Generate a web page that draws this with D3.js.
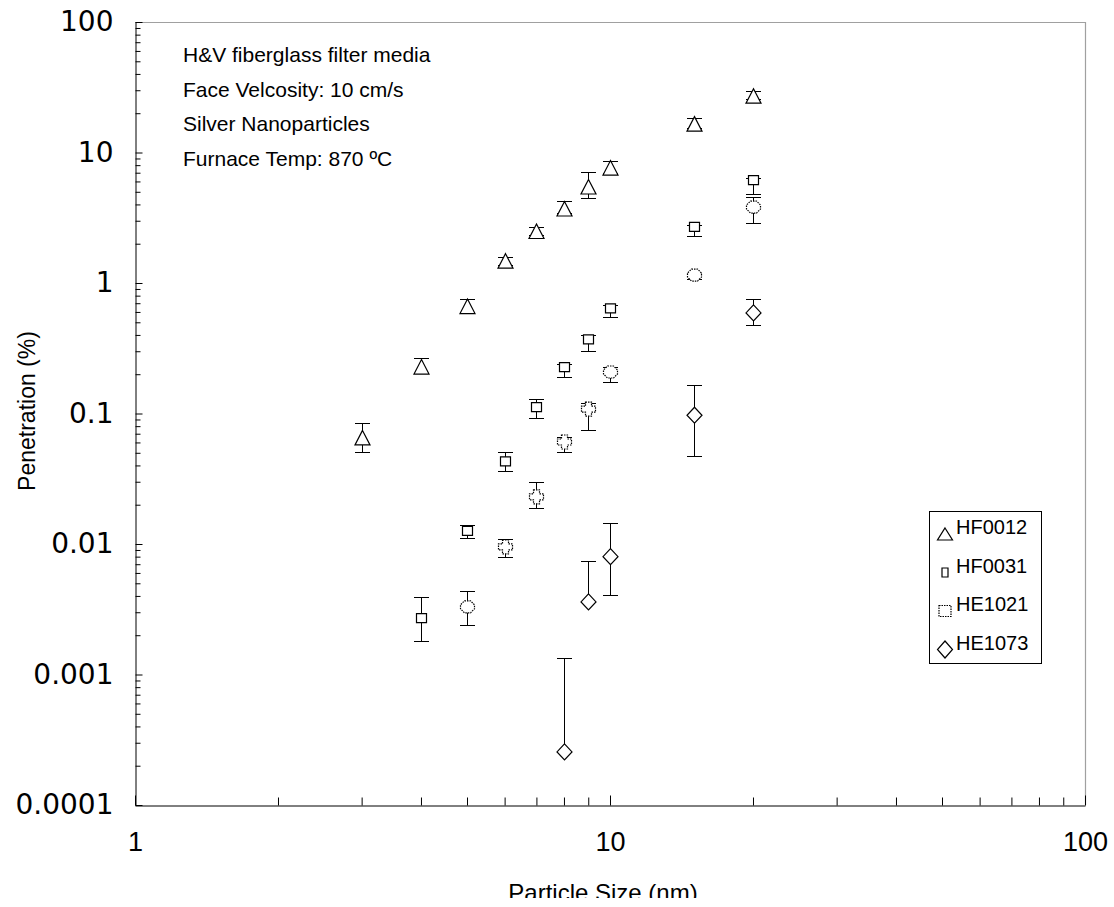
<!DOCTYPE html>
<html>
<head>
<meta charset="utf-8">
<script src="https://cdn.jsdelivr.net/npm/d3@7"></script>
<style>
  body { margin: 0; background: #fff; }
  svg { display: block; font-family: "Liberation Sans", Arial, sans-serif; }
</style>
</head>
<body>
<div id="chart"></div>
<script>
// Particle sizes (nm) for each filter
var sizesHF0012 = [3, 4, 5, 6, 7, 8, 9, 10, 15, 20]
var sizesHF0031 = [4, 5, 6, 7, 8, 9, 10, 15, 20]
var sizesHE1021 = [5, 6, 7, 8, 9, 10, 15, 20]
var sizesHE1073 = [8, 9, 10, 15, 20]

// Penetration (%) and the ends of the error bars
var penHF0012 = [0.065, 0.227, 0.66, 1.47, 2.48, 3.69, 5.44, 7.6, 16.5, 27.0]
var lowHF0012 = [0.0506, 0.205, 0.60, 1.38, 2.35, 3.45, 4.5, 7.0, 15.5, 25.5]
var highHF0012 = [0.085, 0.265, 0.75, 1.58, 2.7, 4.25, 7.1, 8.6, 18.5, 29.5]

var penHF0031 = [0.0027, 0.0126, 0.043, 0.112, 0.227, 0.37, 0.64, 2.69, 6.15]
var lowHF0031 = [0.0018, 0.0111, 0.0363, 0.092, 0.19, 0.30, 0.55, 2.29, 4.8]
var highHF0031 = [0.0039, 0.0141, 0.0508, 0.13, 0.24, 0.40, 0.68, 2.8, 6.4]

var penHE1021 = [0.0033, 0.0095, 0.023, 0.0605, 0.108, 0.208, 1.15, 3.82]
var lowHE1021 = [0.0024, 0.0079, 0.019, 0.0507, 0.075, 0.174, 1.08, 2.88]
var highHE1021 = [0.0044, 0.011, 0.030, 0.066, 0.12, 0.227, 1.2, 4.56]

var penHE1073 = [0.000255, 0.0036, 0.0080, 0.097, 0.59]
var lowHE1073 = [0.000255, 0.0036, 0.0041, 0.047, 0.477]
var highHE1073 = [0.00134, 0.0074, 0.0145, 0.166, 0.75]

var seriesNames = ["HF0012", "HF0031", "HE1021", "HE1073"]
var xTickLabels = ["1", "10", "100"]
var yTickLabels = ["0.0001", "0.001", "0.01", "0.1", "1", "10", "100"]
var notes = ["H&V fiberglass filter media", "Face Velcosity: 10 cm/s",
  "Silver Nanoparticles", "Furnace Temp: 870 \u00baC"]

// Build series rows from the arrays
function rows(sizes, pen, low, high) {
  return sizes.map(function(s, i) {
    return { x: s, y: pen[i], lo: low[i], hi: high[i] }
  })
}
var series = [
  { name: seriesNames[0], marker: "triangle", points: rows(sizesHF0012, penHF0012, lowHF0012, highHF0012) },
  { name: seriesNames[1], marker: "rect", points: rows(sizesHF0031, penHF0031, lowHF0031, highHF0031) },
  { name: seriesNames[2], marker: "dotted", points: rows(sizesHE1021, penHE1021, lowHE1021, highHE1021) },
  { name: seriesNames[3], marker: "diamond", points: rows(sizesHE1073, penHE1073, lowHE1073, highHE1073) }
]

var width = 1114, height = 898
var plotLeft = 135, plotRight = 1085, plotTop = 22, plotBottom = 805

var svg = d3.select("#chart").append("svg")
  .attr("width", width)
  .attr("height", height)

var x = d3.scaleLog().domain([1, 100]).range([plotLeft, plotRight])
var y = d3.scaleLog().domain([0.0001, 100]).range([plotBottom, plotTop])

// Minor tick positions: 2..9 inside each decade
function minors(lo, hi) {
  var out = []
  for (var d = lo; d < hi * 0.999; d *= 10)
    for (var k = 2; k <= 9; k++) out.push(d * k)
  return out
}

// Light frame on top and right
svg.append("path")
  .attr("d", "M" + plotLeft + "," + (plotTop + 0.5) + "H" + (plotRight + 0.5) + "V" + plotBottom)
  .attr("fill", "none")
  .attr("stroke", "#a0a0a0")
  .attr("stroke-width", 1.2)

// Y axis, ticks pointing inwards
var yMajor = yTickLabels.map(function(t) { return +t })
svg.append("g")
  .attr("transform", "translate(" + (plotLeft + 0.5) + ",0)")
  .call(d3.axisLeft(y).tickValues(yMajor).tickSize(-7).tickSizeOuter(0)
    .tickPadding(22).tickFormat(function(d, i) { return yTickLabels[i] }))
  .call(function(g) {
    g.selectAll("text").attr("font-size", 28).attr("fill", "#000")
      .attr("font-family", "DejaVu Sans, Verdana, sans-serif")
    g.selectAll("line, path").attr("stroke", "#000")
  })
svg.append("g")
  .attr("transform", "translate(" + (plotLeft + 0.5) + ",0)")
  .call(d3.axisLeft(y).tickValues(minors(0.0001, 100)).tickSize(-5).tickFormat(""))
  .call(function(g) {
    g.select(".domain").remove()
    g.selectAll("line").attr("stroke", "#000")
  })

// X axis, ticks pointing inwards
var xMajor = xTickLabels.map(function(t) { return +t })
svg.append("g")
  .attr("transform", "translate(0," + (plotBottom + 0.5) + ")")
  .call(d3.axisBottom(x).tickValues(xMajor).tickSize(-10).tickSizeOuter(0)
    .tickPadding(26).tickFormat(function(d, i) { return xTickLabels[i] }))
  .call(function(g) {
    g.selectAll("text").attr("font-size", 27).attr("fill", "#000")
      .attr("font-family", "Liberation Sans, Arial, sans-serif")
    g.selectAll("line, path").attr("stroke", "#000")
  })
svg.append("g")
  .attr("transform", "translate(0," + (plotBottom + 0.5) + ")")
  .call(d3.axisBottom(x).tickValues(minors(1, 100)).tickSize(-8).tickFormat(""))
  .call(function(g) {
    g.select(".domain").remove()
    g.selectAll("line").attr("stroke", "#000")
  })

// Axis titles
svg.append("text")
  .attr("x", 603)
  .attr("y", 901)
  .attr("text-anchor", "middle")
  .attr("font-size", 24)
  .text("Particle Size (nm)")

svg.append("text")
  .attr("transform", "translate(35,411) rotate(-90)")
  .attr("text-anchor", "middle")
  .attr("font-size", 23)
  .text("Penetration (%)")

// Notes in the top left corner
svg.append("g").selectAll("text")
  .data(notes)
  .enter()
  .append("text")
  .attr("x", 183)
  .attr("y", function(d, i) { return 62 + i * 34.5 })
  .attr("font-size", 21)
  .text(function(d) { return d })

// Marker shapes
function markerPath(type, px) {
  if (type == "triangle") return "M0,-7.5L7.5,7L-7.5,7Z"
  if (type == "rect") return "M-5,-4.5H5V4.5H-5Z"
  if (type == "diamond") return "M0,-8L7.5,0L0,8L-7.5,0Z"
  if (px % 5 == 0) return "M-3,-6H3L7,-2V2L3,6H-3L-7,2V-2Z"
  return "M-3,-7H3V-3H7V3H3V7H-3V3H-7V-3H-3Z"
}

var cap = 7.5

series.forEach(function(s) {
  var g = svg.append("g")

  // Error bars first, markers sit on top
  g.selectAll(".bar")
    .data(s.points)
    .enter()
    .append("path")
    .attr("stroke", "#000")
    .attr("stroke-width", 1)
    .attr("fill", "none")
    .attr("d", function(d) {
      var cx = Math.round(x(d.x)) + 0.5
      var p = ""
      if (d.hi > d.y) {
        var yh = Math.round(y(d.hi)) + 0.5
        p += "M" + cx + "," + y(d.y) + "V" + yh + "M" + (cx - cap) + "," + yh + "H" + (cx + cap)
      }
      if (d.lo < d.y) {
        var yl = Math.round(y(d.lo)) + 0.5
        p += "M" + cx + "," + y(d.y) + "V" + yl + "M" + (cx - cap) + "," + yl + "H" + (cx + cap)
      }
      return p
    })

  g.selectAll(".mark")
    .data(s.points)
    .enter()
    .append("path")
    .attr("transform", function(d) {
      return "translate(" + (Math.round(x(d.x)) + 0.5) + "," + y(d.y) + ")"
    })
    .attr("d", function(d) { return markerPath(s.marker, d.x) })
    .attr("fill", "#fff")
    .attr("stroke", "#000")
    .attr("stroke-width", 1.2)
    .attr("stroke-dasharray", s.marker == "dotted" ? "1.5,1" : null)
})

// Legend
var legend = svg.append("g")
legend.append("rect")
  .attr("x", 929.5)
  .attr("y", 511.5)
  .attr("width", 112)
  .attr("height", 152)
  .attr("fill", "#fff")
  .attr("stroke", "#000")

var legendMarks = {
  triangle: "M0,-6L7.5,6L-7.5,6Z",
  rect: "M-3,-4.5H3V4.5H-3Z",
  dotted: "M-6,-5.5H6V5.5H-6Z",
  diamond: "M0,-8.5L7.5,0L0,8.5L-7.5,0Z"
}

var item = legend.selectAll(".item")
  .data(series)
  .enter()
  .append("g")
  .attr("transform", function(d, i) { return "translate(945," + (534 + i * 38.5) + ")" })

item.append("path")
  .attr("d", function(d) { return legendMarks[d.marker] })
  .attr("fill", "#fff")
  .attr("stroke", "#000")
  .attr("stroke-width", 1.2)
  .attr("stroke-dasharray", function(d) { return d.marker == "dotted" ? "1.5,1" : null })

item.append("text")
  .attr("x", 11)
  .attr("y", 0)
  .attr("font-size", 20)
  .text(function(d) { return d.name })
</script>
</body>
</html>
